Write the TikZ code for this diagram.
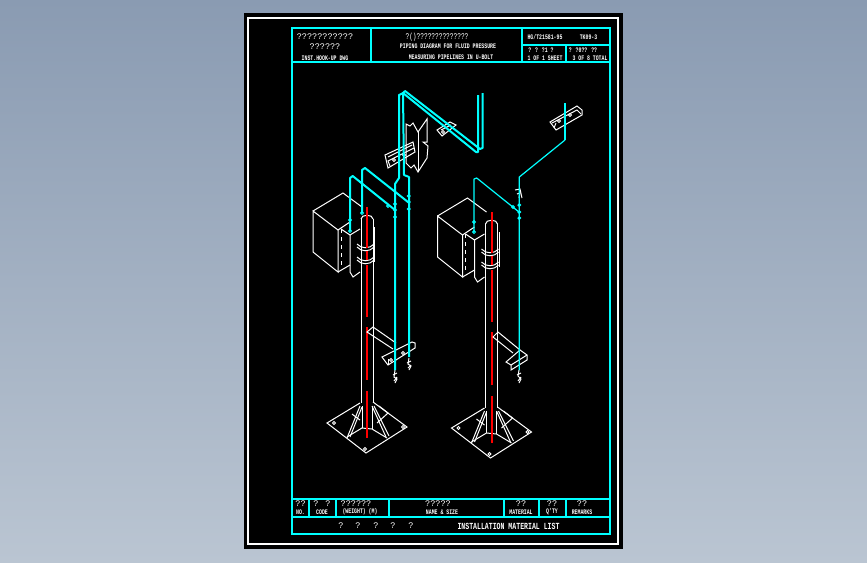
\documentclass[tikz,border=0pt]{standalone}
\usepackage{fontspec}
\setmainfont{Liberation Sans}
\newfontfamily\cadfont[FakeStretch=0.7]{Liberation Mono}
\newfontfamily\markfont{Liberation Mono}
\definecolor{cadcyan}{RGB}{0,255,255}
\definecolor{skytop}{RGB}{138,155,178}
\definecolor{skybottom}{RGB}{186,197,210}
\tikzset{
  sheetline/.style={draw=cadcyan, line width=1.5pt},
  pipethick/.style={draw=cadcyan, line width=1.5pt, line join=round},
  pipethin/.style={draw=cadcyan, line width=0.9pt, line join=round},
  partline/.style={draw=white, line width=0.75pt},
  small/.style={text=white, inner sep=0pt, font=\cadfont\bfseries\fontsize{5.2}{5}\selectfont},
  marks/.style={text=white, inner sep=0pt, font=\markfont\fontsize{6.4}{6}\selectfont},
  marksnarrow/.style={text=white, inner sep=0pt, font=\cadfont\fontsize{6.6}{6}\selectfont},
  wide/.style={text=white, inner sep=0pt, font=\cadfont\bfseries\fontsize{7}{6}\selectfont},
  polestand/.pic={
    % box
    \draw[partline] (313,211) -- (343,193) -- (362,207);
    \draw[partline] (313,211) -- (338,230) -- (338,272) -- (313,252) -- cycle;
    \draw[partline] (338,230) -- (350,222);
    \draw[partline] (338,272) -- (350,265);
    \draw[partline, dashed] (341,229) -- (341,267);
    % bracket
    \draw[partline] (341,229) -- (350,235) -- (360,229);
    \draw[partline] (350,235) -- (350,272) -- (353,277) -- (360,272);
    % pole
    \draw[partline] (361,219) .. controls (361,214) and (373,214) .. (373,219);
    \draw[partline] (361,219) -- (361,403);
    \draw[partline] (373,219) -- (373,403);
    \draw[partline] (374.5,227) -- (374.5,262);
    \foreach \py in {244,247,257,260}
      \draw[partline] (357,\py) .. controls (361,\py+5) and (370,\py+5) .. (374,\py);
    % foot plate
    \draw[partline] (360,403) -- (327,423) -- (366,453) -- (407,427) -- (373,402);
    \draw[partline] (360,406) -- (347,438);
    \draw[partline] (362,407) -- (350,437);
    \draw[partline] (372,406) -- (386,437);
    \draw[partline] (374,406) -- (389,436);
    \draw[partline] (347,437) -- (362,428) -- (372,429) -- (387,438);
    \draw[partline] (362,406) -- (362,428);
    \draw[partline] (372,406) -- (372,429);
    \draw[partline] (352,414) -- (360,420);
    \draw[partline] (379,406) -- (388,413) -- (377,423);
    \draw[partline] (334,423) circle (1.5);
    \draw[partline] (365,449) circle (1.5);
    \draw[partline] (403,427) circle (1.5);
  },
  x=0.75pt, y=-0.75pt
}
\begin{document}
\begin{tikzpicture}
  \useasboundingbox (0,0) rectangle (867,562);
  \shade[top color=skytop, bottom color=skybottom] (0,0) rectangle (867,562);
  \fill[black] (244,13) rectangle (623,549);
  \draw[draw=white, line width=0.9pt] (248,18) rectangle (618,544);

  % sheet frame
  \draw[sheetline] (292,27.5) rectangle (609.5,534);
  \draw[sheetline] (292,62) -- (609.5,62);
  \draw[sheetline] (371,27.5) -- (371,62);
  \draw[sheetline] (522,27.5) -- (522,62);
  \draw[sheetline] (522,45) -- (609.5,45);
  \draw[sheetline] (566,45) -- (566,62);
  \draw[sheetline] (292,499) -- (609.5,499);
  \draw[sheetline] (292,517) -- (609.5,517);
  \foreach \px in {309,336,389,504,539,566}
    \draw[sheetline] (\px,499) -- (\px,517);

  % title block
  \node[marks] (dwgq) at (325,37) {???????????};
  \node[marks] (dwgr) at (325,47) {??????};
  \node[small] (dwgname) at (325,58) {INST.HOOK-UP DWG};
  \node[marksnarrow] (titleq) at (437,37) {?()??????????????};
  \node[small] (titlea) at (448,46.5) {PIPING DIAGRAM FOR FLUID PRESSURE};
  \node[small] (titleb) at (451,57.5) {MEASURING PIPELINES IN U-BOLT};
  \node[small] (stdno) at (545,37.5) {HG/T21581-95};
  \node[small] (dwgno) at (588.5,37.5) {TK09-3};
  \node[small] (sheetq) at (541,50.5) {? ? ?1 ?};
  \node[small] (sheetno) at (545,58) {1 OF 1 SHEET};
  \node[small] (totalq) at (583,50.5) {? ?0?? ??};
  \node[small] (totalno) at (590,58) {3 OF 8 TOTAL};

  % table head
  \node[marks] (noq) at (300.5,504) {??};
  \node[small] (noa) at (300.5,512) {NO.};
  \node[marks] (codeq) at (322,504) {? ?};
  \node[small] (codea) at (322,512) {CODE};
  \node[marks] (stdq) at (356,504) {??????};
  \node[small] (stda) at (360,512) {(WEIGHT) (M)};
  \node[marks] (nameq) at (438,504) {?????};
  \node[small] (namea) at (442,512) {NAME \& SIZE};
  \node[marks] (matq) at (521,504) {??};
  \node[small] (mata) at (521,512) {MATERIAL};
  \node[marks] (qtyq) at (552,504) {??};
  \node[small] (qtya) at (552,512) {Q'TY};
  \node[marks] (remq) at (582,504) {??};
  \node[small] (rema) at (582,512) {REMARKS};
  \foreach \px in {341,358,376,393,411}
    \node[marks] (list\px) at (\px,526) {?};
  \node[wide] (listname) at (508.5,526) {INSTALLATION MATERIAL LIST};

  % left and right stands
  \pic (standa) at (0,0) {polestand};
  \pic (standb) at (124.5,5) {polestand};

  % centre lines
  \foreach \ya/\yb in {207/248,251/260,265/317,327/380,391/438}
    \draw[draw=red, line width=1.1pt] (367,\ya) -- (367,\yb);
  \foreach \ya/\yb in {212/253,256/265,270/322,332/385,396/443}
    \draw[draw=red, line width=0.9pt] (492,\ya) -- (492,\yb);

  % arm, left stand
  \draw[partline] (396,343) -- (373,327) -- (367,332) -- (393,349);
  \draw[partline] (382,357) -- (412,342) -- (415,343) -- (415,348) -- (388,365) -- cycle;
  \draw[partline] (388,359) -- (388,365);
  \draw[partline] (391,360) circle (1.5);
  \draw[partline] (403,353) circle (1.5);
  \draw[partline] (395,370) -- (394,377) -- (397,379) -- (395,383);
  \draw[partline] (397,373) -- (393,375);
  \draw[partline] (397,377) -- (394,381);
  \draw[partline] (409,358) -- (408,364) -- (411,366) -- (409,370);
  \draw[partline] (411,361) -- (407,363);
  \draw[partline] (411,365) -- (408,368);
  % arm, right stand
  \draw[partline] (520,350) -- (498,332) -- (493,337) -- (513,353);
  \draw[partline] (506,362) -- (520,350) -- (527,355) -- (527,360) -- (511,370) -- (511,365) -- cycle;
  \draw[partline] (511,365) -- (527,355);
  \draw[partline] (519,370) -- (518,376) -- (521,379) -- (519,383);
  \draw[partline] (521,373) -- (517,375);
  \draw[partline] (521,377) -- (518,381);

  % upper clamps
  \draw[partline] (406,124) -- (410,126) -- (413,123) -- (418,132) -- (427,119) -- (427,142) -- (423,142) -- (428,146) -- (427,158) -- (418,172) -- (414,165) -- (411,168) -- (406,163) -- cycle;
  \draw[partline] (418,132) -- (418,172);
  \draw[partline] (385,155) -- (413,142) -- (415,152) -- (388,168) -- cycle;
  \draw[partline] (388,157) -- (412,145);
  \draw[partline] (390,166) -- (388,161) -- (414,148);
  \draw[partline] (394,160) circle (1.5);
  \draw[partline] (404,155) circle (1.5);
  \draw[partline] (437,130) -- (450,122) -- (456,125) -- (442,136) -- cycle;
  \draw[partline] (441,130) -- (451,125);
  \draw[partline] (443,132) circle (1.5);
  \draw[partline] (550,122) -- (577,106) -- (582,110) -- (582,115) -- (556,130) -- cycle;
  \draw[partline] (552,123) -- (577,110) -- (581,114);
  \draw[partline] (554,128) -- (556,123);
  \draw[partline] (559,121) circle (1.5);
  \draw[partline] (570,115) circle (1.5);
  \draw[partline] (515,190) -- (520,189) -- (522,198);
  \draw[partline] (517,194) -- (520,193) -- (519,198);

  % impulse pipes
  \draw[pipethick] (395,370) -- (395,184) -- (399,178) -- (399,95) -- (403,93) -- (476,152) -- (478,152) -- (478,95);
  \draw[pipethick] (409,357) -- (409,177) -- (404,175) -- (403,93) -- (405,91) -- (480,149) -- (482.5,148) -- (482.5,93);
  \draw[pipethick] (350,231) -- (350,178) -- (352.7,176) -- (395,210);
  \draw[pipethick] (362,213) -- (362,170) -- (365,168) -- (408,202);
  \draw[pipethin] (474,232) -- (474,179) -- (476.7,178) -- (519,212);
  \draw[pipethin] (519.3,370) -- (519.3,177) -- (565,140);
  \draw[pipethick] (565,140) -- (565,103);
  \foreach \px/\py in {395/204,395/210,395/217,408.7/196,408.7/202,408.7/209,350/220,350/231,362/213,388/206,474/222,474/232,513/207,519.3/205,519.3/212,519.3/218}
    \draw[draw=cadcyan, line width=0.7pt] (\px,\py) circle (1.4);
\end{tikzpicture}
\end{document}
